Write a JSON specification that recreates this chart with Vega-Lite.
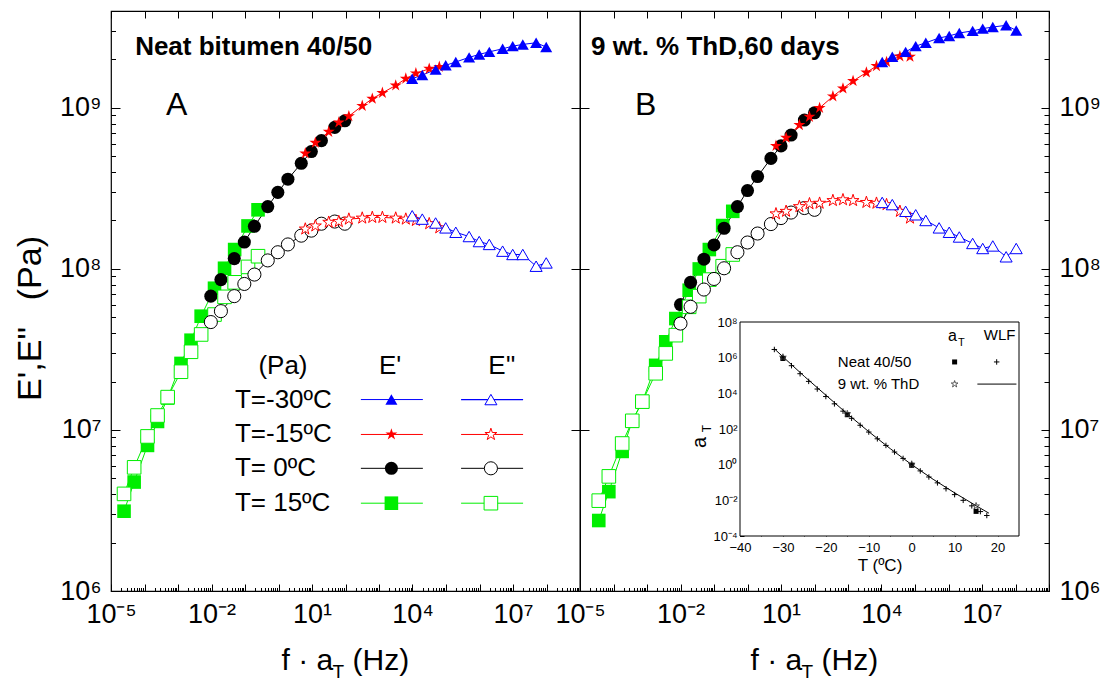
{
"$schema":"https://vega.github.io/schema/vega-lite/v6.json",
"padding":{"left":12,"top":9,"right":5,"bottom":0},
"background":"white",
"bounds":"flush",
"spacing":0,
"config":{"font":"Liberation Sans","view":{"stroke":"#000","strokeWidth":1.2},
"axis":{"labelFont":"Liberation Sans","titleFont":"Liberation Sans","labelColor":"#000","titleColor":"#000","tickColor":"#000","tickWidth":1,"domain":false,"grid":false,"zindex":1,"titleFontWeight":"normal","labelFlush":false,"labelOverlap":false,"labelBound":false}},
"datasets":{
"main":[
{"p":"A","T":"15","m":"s","f":2.45e-5,"E":3.13e6},{"p":"A","T":"15","m":"s","f":4.91e-5,"E":4.75e6},{"p":"A","T":"15","m":"s","f":1.23e-4,"E":8.02e6},{"p":"A","T":"15","m":"s","f":2.45e-4,"E":1.13e7},{"p":"A","T":"15","m":"s","f":4.91e-4,"E":1.58e7},{"p":"A","T":"15","m":"s","f":1.23e-3,"E":2.59e7},{"p":"A","T":"15","m":"s","f":2.45e-3,"E":3.61e7},{"p":"A","T":"15","m":"s","f":4.91e-3,"E":5.09e7},{"p":"A","T":"15","m":"s","f":1.23e-2,"E":7.59e7},{"p":"A","T":"15","m":"s","f":2.45e-2,"E":1.01e8},{"p":"A","T":"15","m":"s","f":4.91e-2,"E":1.32e8},{"p":"A","T":"15","m":"s","f":0.123,"E":1.85e8},{"p":"A","T":"15","m":"s","f":0.245,"E":2.33e8},
{"p":"A","T":"15","m":"l","f":2.45e-5,"E":4.01e6},{"p":"A","T":"15","m":"l","f":4.91e-5,"E":5.86e6},{"p":"A","T":"15","m":"l","f":1.23e-4,"E":9.12e6},{"p":"A","T":"15","m":"l","f":2.45e-4,"E":1.23e7},{"p":"A","T":"15","m":"l","f":4.91e-4,"E":1.6e7},{"p":"A","T":"15","m":"l","f":1.23e-3,"E":2.3e7},{"p":"A","T":"15","m":"l","f":2.45e-3,"E":3.06e7},{"p":"A","T":"15","m":"l","f":4.91e-3,"E":3.92e7},{"p":"A","T":"15","m":"l","f":1.23e-2,"E":5.21e7},{"p":"A","T":"15","m":"l","f":2.45e-2,"E":6.71e7},{"p":"A","T":"15","m":"l","f":4.91e-2,"E":8.26e7},{"p":"A","T":"15","m":"l","f":0.123,"E":1.03e8},{"p":"A","T":"15","m":"l","f":0.245,"E":1.2e8},
{"p":"A","T":"0","m":"s","f":0.00955,"E":6.78e7},{"p":"A","T":"0","m":"s","f":0.0191,"E":8.59e7},{"p":"A","T":"0","m":"s","f":0.0478,"E":1.16e8},{"p":"A","T":"0","m":"s","f":0.0955,"E":1.47e8},{"p":"A","T":"0","m":"s","f":0.191,"E":1.84e8},{"p":"A","T":"0","m":"s","f":0.478,"E":2.44e8},{"p":"A","T":"0","m":"s","f":0.955,"E":2.99e8},{"p":"A","T":"0","m":"s","f":1.91,"E":3.61e8},{"p":"A","T":"0","m":"s","f":4.78,"E":4.53e8},{"p":"A","T":"0","m":"s","f":9.55,"E":5.36e8},{"p":"A","T":"0","m":"s","f":19.1,"E":6.27e8},{"p":"A","T":"0","m":"s","f":47.8,"E":7.57e8},{"p":"A","T":"0","m":"s","f":95.5,"E":8.32e8},
{"p":"A","T":"0","m":"l","f":0.00955,"E":4.68e7},{"p":"A","T":"0","m":"l","f":0.0191,"E":5.47e7},{"p":"A","T":"0","m":"l","f":0.0478,"E":6.78e7},{"p":"A","T":"0","m":"l","f":0.0955,"E":8.07e7},{"p":"A","T":"0","m":"l","f":0.191,"E":9.23e7},{"p":"A","T":"0","m":"l","f":0.478,"E":1.13e8},{"p":"A","T":"0","m":"l","f":0.955,"E":1.27e8},{"p":"A","T":"0","m":"l","f":1.91,"E":1.42e8},{"p":"A","T":"0","m":"l","f":4.78,"E":1.61e8},{"p":"A","T":"0","m":"l","f":9.55,"E":1.73e8},{"p":"A","T":"0","m":"l","f":19.1,"E":1.91e8},{"p":"A","T":"0","m":"l","f":47.8,"E":1.97e8},{"p":"A","T":"0","m":"l","f":95.5,"E":1.91e8},
{"p":"A","T":"-15","m":"s","f":6.31,"E":5.22e8},{"p":"A","T":"-15","m":"s","f":12.6,"E":6.08e8},{"p":"A","T":"-15","m":"s","f":31.6,"E":7.11e8},{"p":"A","T":"-15","m":"s","f":63.1,"E":8.13e8},{"p":"A","T":"-15","m":"s","f":126,"E":8.89e8},{"p":"A","T":"-15","m":"s","f":316,"E":1.03e9},{"p":"A","T":"-15","m":"s","f":631,"E":1.14e9},{"p":"A","T":"-15","m":"s","f":1262,"E":1.24e9},{"p":"A","T":"-15","m":"s","f":3155,"E":1.38e9},{"p":"A","T":"-15","m":"s","f":6310,"E":1.52e9},{"p":"A","T":"-15","m":"s","f":12620,"E":1.64e9},{"p":"A","T":"-15","m":"s","f":31550,"E":1.75e9},{"p":"A","T":"-15","m":"s","f":63100,"E":1.8e9},
{"p":"A","T":"-15","m":"l","f":6.31,"E":1.77e8},{"p":"A","T":"-15","m":"l","f":12.6,"E":1.85e8},{"p":"A","T":"-15","m":"l","f":31.6,"E":1.95e8},{"p":"A","T":"-15","m":"l","f":63.1,"E":1.97e8},{"p":"A","T":"-15","m":"l","f":126,"E":2.04e8},{"p":"A","T":"-15","m":"l","f":316,"E":2.07e8},{"p":"A","T":"-15","m":"l","f":631,"E":2.09e8},{"p":"A","T":"-15","m":"l","f":1262,"E":2.09e8},{"p":"A","T":"-15","m":"l","f":3155,"E":2.07e8},{"p":"A","T":"-15","m":"l","f":6310,"E":2.04e8},{"p":"A","T":"-15","m":"l","f":12620,"E":2.0e8},{"p":"A","T":"-15","m":"l","f":31550,"E":1.91e8},{"p":"A","T":"-15","m":"l","f":63100,"E":1.8e8},
{"p":"A","T":"-30","m":"s","f":9800,"E":1.52e9},{"p":"A","T":"-30","m":"s","f":19600,"E":1.6e9},{"p":"A","T":"-30","m":"s","f":49000,"E":1.73e9},{"p":"A","T":"-30","m":"s","f":98000,"E":1.84e9},{"p":"A","T":"-30","m":"s","f":196000,"E":1.93e9},{"p":"A","T":"-30","m":"s","f":490000,"E":2.06e9},{"p":"A","T":"-30","m":"s","f":980000,"E":2.15e9},{"p":"A","T":"-30","m":"s","f":1.96e6,"E":2.23e9},{"p":"A","T":"-30","m":"s","f":4.9e6,"E":2.33e9},{"p":"A","T":"-30","m":"s","f":9.8e6,"E":2.42e9},{"p":"A","T":"-30","m":"s","f":1.96e7,"E":2.48e9},{"p":"A","T":"-30","m":"s","f":4.9e7,"E":2.54e9},{"p":"A","T":"-30","m":"s","f":9.8e7,"E":2.39e9},
{"p":"A","T":"-30","m":"l","f":9800,"E":2.14e8},{"p":"A","T":"-30","m":"l","f":19600,"E":2.04e8},{"p":"A","T":"-30","m":"l","f":49000,"E":1.93e8},{"p":"A","T":"-30","m":"l","f":98000,"E":1.8e8},{"p":"A","T":"-30","m":"l","f":196000,"E":1.69e8},{"p":"A","T":"-30","m":"l","f":490000,"E":1.59e8},{"p":"A","T":"-30","m":"l","f":980000,"E":1.48e8},{"p":"A","T":"-30","m":"l","f":1.96e6,"E":1.42e8},{"p":"A","T":"-30","m":"l","f":4.9e6,"E":1.29e8},{"p":"A","T":"-30","m":"l","f":9.8e6,"E":1.23e8},{"p":"A","T":"-30","m":"l","f":1.96e7,"E":1.23e8},{"p":"A","T":"-30","m":"l","f":4.9e7,"E":1.04e8},{"p":"A","T":"-30","m":"l","f":9.8e7,"E":1.09e8},
{"p":"B","T":"15","m":"s","f":3.63e-5,"E":2.74e6},{"p":"B","T":"15","m":"s","f":7.26e-5,"E":4.14e6},{"p":"B","T":"15","m":"s","f":1.815e-4,"E":7.36e6},{"p":"B","T":"15","m":"s","f":3.63e-4,"E":1.14e7},{"p":"B","T":"15","m":"s","f":7.26e-4,"E":1.5e7},{"p":"B","T":"15","m":"s","f":1.815e-3,"E":2.52e7},{"p":"B","T":"15","m":"s","f":3.63e-3,"E":3.53e7},{"p":"B","T":"15","m":"s","f":7.26e-3,"E":4.92e7},{"p":"B","T":"15","m":"s","f":1.815e-2,"E":7.38e7},{"p":"B","T":"15","m":"s","f":3.63e-2,"E":1.0e8},{"p":"B","T":"15","m":"s","f":7.26e-2,"E":1.32e8},{"p":"B","T":"15","m":"s","f":0.1815,"E":1.86e8},{"p":"B","T":"15","m":"s","f":0.363,"E":2.28e8},
{"p":"B","T":"15","m":"l","f":3.63e-5,"E":3.64e6},{"p":"B","T":"15","m":"l","f":7.26e-5,"E":5.15e6},{"p":"B","T":"15","m":"l","f":1.815e-4,"E":8.24e6},{"p":"B","T":"15","m":"l","f":3.63e-4,"E":1.14e7},{"p":"B","T":"15","m":"l","f":7.26e-4,"E":1.5e7},{"p":"B","T":"15","m":"l","f":1.815e-3,"E":2.25e7},{"p":"B","T":"15","m":"l","f":3.63e-3,"E":2.99e7},{"p":"B","T":"15","m":"l","f":7.26e-3,"E":3.88e7},{"p":"B","T":"15","m":"l","f":1.815e-2,"E":5.82e7},{"p":"B","T":"15","m":"l","f":3.63e-2,"E":6.78e7},{"p":"B","T":"15","m":"l","f":7.26e-2,"E":8.59e7},{"p":"B","T":"15","m":"l","f":0.1815,"E":1.04e8},{"p":"B","T":"15","m":"l","f":0.363,"E":1.23e8},
{"p":"B","T":"0","m":"s","f":0.01,"E":6.01e7},{"p":"B","T":"0","m":"s","f":0.02,"E":8.26e7},{"p":"B","T":"0","m":"s","f":0.05,"E":1.15e8},{"p":"B","T":"0","m":"s","f":0.1,"E":1.41e8},{"p":"B","T":"0","m":"s","f":0.2,"E":1.79e8},{"p":"B","T":"0","m":"s","f":0.5,"E":2.44e8},{"p":"B","T":"0","m":"s","f":1,"E":3.07e8},{"p":"B","T":"0","m":"s","f":2,"E":3.75e8},{"p":"B","T":"0","m":"s","f":5,"E":4.86e8},{"p":"B","T":"0","m":"s","f":10,"E":5.81e8},{"p":"B","T":"0","m":"s","f":20,"E":6.79e8},{"p":"B","T":"0","m":"s","f":50,"E":8.41e8},{"p":"B","T":"0","m":"s","f":100,"E":9.33e8},
{"p":"B","T":"0","m":"l","f":0.01,"E":4.58e7},{"p":"B","T":"0","m":"l","f":0.02,"E":5.82e7},{"p":"B","T":"0","m":"l","f":0.05,"E":7.45e7},{"p":"B","T":"0","m":"l","f":0.1,"E":8.67e7},{"p":"B","T":"0","m":"l","f":0.2,"E":1.01e8},{"p":"B","T":"0","m":"l","f":0.5,"E":1.27e8},{"p":"B","T":"0","m":"l","f":1,"E":1.46e8},{"p":"B","T":"0","m":"l","f":2,"E":1.66e8},{"p":"B","T":"0","m":"l","f":5,"E":1.9e8},{"p":"B","T":"0","m":"l","f":10,"E":2.07e8},{"p":"B","T":"0","m":"l","f":20,"E":2.24e8},{"p":"B","T":"0","m":"l","f":50,"E":2.39e8},{"p":"B","T":"0","m":"l","f":100,"E":2.33e8},
{"p":"B","T":"-15","m":"s","f":7.08,"E":5.81e8},{"p":"B","T":"-15","m":"s","f":14.2,"E":6.53e8},{"p":"B","T":"-15","m":"s","f":35.4,"E":7.83e8},{"p":"B","T":"-15","m":"s","f":70.8,"E":8.81e8},{"p":"B","T":"-15","m":"s","f":142,"E":1.0e9},{"p":"B","T":"-15","m":"s","f":354,"E":1.18e9},{"p":"B","T":"-15","m":"s","f":708,"E":1.32e9},{"p":"B","T":"-15","m":"s","f":1416,"E":1.47e9},{"p":"B","T":"-15","m":"s","f":3540,"E":1.66e9},{"p":"B","T":"-15","m":"s","f":7080,"E":1.82e9},{"p":"B","T":"-15","m":"s","f":14160,"E":1.93e9},{"p":"B","T":"-15","m":"s","f":35400,"E":2.09e9},{"p":"B","T":"-15","m":"s","f":70800,"E":2.08e9},
{"p":"B","T":"-15","m":"l","f":7.08,"E":2.2e8},{"p":"B","T":"-15","m":"l","f":14.2,"E":2.28e8},{"p":"B","T":"-15","m":"l","f":35.4,"E":2.44e8},{"p":"B","T":"-15","m":"l","f":70.8,"E":2.54e8},{"p":"B","T":"-15","m":"l","f":142,"E":2.56e8},{"p":"B","T":"-15","m":"l","f":354,"E":2.66e8},{"p":"B","T":"-15","m":"l","f":708,"E":2.69e8},{"p":"B","T":"-15","m":"l","f":1416,"E":2.66e8},{"p":"B","T":"-15","m":"l","f":3540,"E":2.59e8},{"p":"B","T":"-15","m":"l","f":7080,"E":2.56e8},{"p":"B","T":"-15","m":"l","f":14160,"E":2.51e8},{"p":"B","T":"-15","m":"l","f":35400,"E":2.28e8},{"p":"B","T":"-15","m":"l","f":70800,"E":2.07e8},
{"p":"B","T":"-30","m":"s","f":10500,"E":1.93e9},{"p":"B","T":"-30","m":"s","f":21000,"E":2.08e9},{"p":"B","T":"-30","m":"s","f":52500,"E":2.23e9},{"p":"B","T":"-30","m":"s","f":105000,"E":2.42e9},{"p":"B","T":"-30","m":"s","f":210000,"E":2.54e9},{"p":"B","T":"-30","m":"s","f":525000,"E":2.72e9},{"p":"B","T":"-30","m":"s","f":1.05e6,"E":2.8e9},{"p":"B","T":"-30","m":"s","f":2.1e6,"E":2.92e9},{"p":"B","T":"-30","m":"s","f":5.25e6,"E":3.01e9},{"p":"B","T":"-30","m":"s","f":1.05e7,"E":3.11e9},{"p":"B","T":"-30","m":"s","f":2.1e7,"E":3.18e9},{"p":"B","T":"-30","m":"s","f":5.25e7,"E":3.26e9},{"p":"B","T":"-30","m":"s","f":1.05e8,"E":3.03e9},
{"p":"B","T":"-30","m":"l","f":10500,"E":2.59e8},{"p":"B","T":"-30","m":"l","f":21000,"E":2.51e8},{"p":"B","T":"-30","m":"l","f":52500,"E":2.28e8},{"p":"B","T":"-30","m":"l","f":105000,"E":2.17e8},{"p":"B","T":"-30","m":"l","f":210000,"E":2.0e8},{"p":"B","T":"-30","m":"l","f":525000,"E":1.8e8},{"p":"B","T":"-30","m":"l","f":1.05e6,"E":1.69e8},{"p":"B","T":"-30","m":"l","f":2.1e6,"E":1.58e8},{"p":"B","T":"-30","m":"l","f":5.25e6,"E":1.44e8},{"p":"B","T":"-30","m":"l","f":1.05e7,"E":1.34e8},{"p":"B","T":"-30","m":"l","f":2.1e7,"E":1.39e8},{"p":"B","T":"-30","m":"l","f":5.25e7,"E":1.19e8},{"p":"B","T":"-30","m":"l","f":1.05e8,"E":1.34e8}
],
"ins":[
{"s":"nw","T":-32,"a":2.88e6},{"s":"nw","T":-30,"a":1.0e6},{"s":"nw","T":-28,"a":3.55e5},{"s":"nw","T":-26,"a":1.26e5},{"s":"nw","T":-24,"a":4.68e4},{"s":"nw","T":-22,"a":1.74e4},{"s":"nw","T":-20,"a":6610},{"s":"nw","T":-18,"a":2570},{"s":"nw","T":-16,"a":1000},{"s":"nw","T":-14,"a":398},{"s":"nw","T":-12,"a":162},{"s":"nw","T":-10,"a":67.6},{"s":"nw","T":-8,"a":28.2},{"s":"nw","T":-6,"a":12.0},{"s":"nw","T":-4,"a":5.13},{"s":"nw","T":-2,"a":2.24},{"s":"nw","T":0,"a":1.0},{"s":"nw","T":2,"a":0.447},{"s":"nw","T":4,"a":0.204},{"s":"nw","T":6,"a":0.0955},{"s":"nw","T":8,"a":0.0447},{"s":"nw","T":10,"a":0.0209},{"s":"nw","T":12,"a":0.01},{"s":"nw","T":14,"a":0.0049},{"s":"nw","T":16,"a":0.00234},{"s":"nw","T":17.5,"a":0.00141},
{"s":"tw","T":-32,"a":3.16e6},{"s":"tw","T":-30,"a":1.12e6},{"s":"tw","T":-25,"a":8.9e4},{"s":"tw","T":-20,"a":7900},{"s":"tw","T":-15,"a":708},{"s":"tw","T":-10,"a":70.8},{"s":"tw","T":-5,"a":7.94},{"s":"tw","T":0,"a":1.0},{"s":"tw","T":5,"a":0.151},{"s":"tw","T":10,"a":0.0263},{"s":"tw","T":15,"a":0.005},{"s":"tw","T":18,"a":0.0019},
{"s":"na","T":-30,"a":9.0e5},{"s":"na","T":-15,"a":630},{"s":"na","T":0,"a":0.92},{"s":"na","T":15,"a":0.0024},
{"s":"ta","T":-30,"a":1.05e6},{"s":"ta","T":-15,"a":708},{"s":"ta","T":0,"a":1.05},{"s":"ta","T":15,"a":0.0048}
]},
"hconcat":[
{
"width":469,"height":580,
"data":{"name":"main"},
"transform":[{"filter":"datum.p == 'A'"}],
"resolve":{"axis":{"x":"independent","y":"independent"}},
"layer":[
{"mark":{"type":"line","strokeWidth":1},
"encoding":{
"x":{"field":"f","type":"quantitative","scale":{"type":"log","domain":[1e-5,1e9],"nice":false},"axis":{"orient":"bottom","values":[1e-5,0.01,10,10000,1e7],"ticks":false,"labelExpr":"'10' + (datum.value < 1 ? '⁻' : '') + substring('⁰¹²³⁴⁵⁶⁷⁸⁹', abs(round(log(datum.value)/LN10)), abs(round(log(datum.value)/LN10)) + 1)","labelFontSize":27,"labelPadding":10,"title":"f · a","titleFontSize":30,"titleX":170,"titleY":78,"titleAlign":"left","titleBaseline":"alphabetic"}},
"y":{"field":"E","type":"quantitative","scale":{"type":"log","domain":[1e6,4e9],"nice":false},"axis":{"orient":"left","values":[1e6,1e7,1e8,1e9],"ticks":false,"labelExpr":"'10' + (datum.value < 1 ? '⁻' : '') + substring('⁰¹²³⁴⁵⁶⁷⁸⁹', abs(round(log(datum.value)/LN10)), abs(round(log(datum.value)/LN10)) + 1)","labelFontSize":27,"labelPadding":10,"title":"E',E'' \u2002(Pa)","titleFontSize":34,"titleX":-81,"titleY":307,"titleAngle":-90,"titleAlign":"center","titleBaseline":"middle"}},
"color":{"field":"T","type":"nominal","scale":{"domain":["-30","-15","0","15"],"range":["#0000ff","#ff0000","#000000","#00ee00"]},"legend":null},
"detail":{"field":"m"}}},
{"transform":[{"filter":"datum.m == 's'"}],
"mark":{"type":"point","filled":true,"opacity":1},
"encoding":{
"x":{"field":"f","type":"quantitative","axis":{"orient":"bottom","values":[1e-5,1e-4,1e-3,0.01,0.1,1,10,100,1000,1e4,1e5,1e6,1e7,1e8,1e9],"labels":false,"tickSize":-7,"title":"(Hz)","titleFontSize":30,"titleX":241,"titleY":78,"titleAlign":"left","titleBaseline":"alphabetic"}},
"y":{"field":"E","type":"quantitative","axis":{"orient":"left","values":[1e6,1e7,1e8,1e9],"labels":false,"tickSize":-9,"title":null}},
"color":{"field":"T","type":"nominal","legend":null},
"shape":{"field":"T","type":"nominal","scale":{"domain":["-30","-15","0","15"],"range":["triangle-up","M0,-1L0.225,-0.309L0.951,-0.309L0.363,0.118L0.588,0.809L0,0.382L-0.588,0.809L-0.363,0.118L-0.951,-0.309L-0.225,-0.309Z","circle","square"]},"legend":null},
"size":{"field":"T","type":"nominal","scale":{"domain":["-30","-15","0","15"],"range":[145,185,90,64]},"legend":null}}},
{"transform":[{"filter":"datum.m == 'l'"}],
"mark":{"type":"point","filled":false,"fill":"white","strokeWidth":1,"opacity":1},
"encoding":{
"x":{"field":"f","type":"quantitative","axis":{"orient":"bottom","tickCount":200,"labels":false,"tickSize":-3.5,"title":"T","titleFontSize":19,"titleX":221,"titleY":86,"titleAlign":"left","titleBaseline":"alphabetic"}},
"y":{"field":"E","type":"quantitative","axis":{"orient":"left","tickCount":40,"labels":false,"tickSize":-4.5,"title":null}},
"color":{"field":"T","type":"nominal","legend":null},
"shape":{"field":"T","type":"nominal","legend":null},
"size":{"field":"T","type":"nominal","legend":null}}},
{"data":{"values":[{}]},
"mark":{"type":"text","text":"Neat bitumen 40/50","fontWeight":"bold","fontSize":26,"align":"left","baseline":"middle"},
"encoding":{"x":{"datum":5.25e-5,"axis":{"orient":"top","values":[1e-5,1e-4,1e-3,0.01,0.1,1,10,100,1000,1e4,1e5,1e6,1e7,1e8,1e9],"labels":false,"tickSize":-7,"title":null}},
"y":{"datum":2.4e9,"axis":{"orient":"right","values":[1e6,1e7,1e8,1e9],"labels":false,"tickSize":-9,"title":null}}}},
{"data":{"values":[{}]},
"mark":{"type":"text","text":"A","fontSize":32,"align":"left","baseline":"middle"},
"encoding":{"x":{"datum":4.37e-4,"axis":null},"y":{"datum":1.05e9,"axis":null}}},
{"data":{"values":[{}]},"mark":{"type":"text","text":"(Pa)","fontSize":26,"align":"center","baseline":"middle"},"encoding":{"x":{"datum":1.36,"axis":null},"y":{"datum":2.51e7,"axis":null}}},
{"data":{"values":[{}]},"mark":{"type":"text","text":"E'","fontSize":26,"align":"center","baseline":"middle"},"encoding":{"x":{"datum":2138,"axis":null},"y":{"datum":2.51e7,"axis":null}}},
{"data":{"values":[{}]},"mark":{"type":"text","text":"E''","fontSize":26,"align":"center","baseline":"middle"},"encoding":{"x":{"datum":4.68e6,"axis":null},"y":{"datum":2.51e7,"axis":null}}},
{"data":{"values":[{"T":"-30","lab":"T=-30ºC"},{"T":"-15","lab":"T=-15ºC"},{"T":"0","lab":"T= 0ºC"},{"T":"15","lab":"T= 15ºC"}]},
"transform":[{"filter":"datum.T == '-30'"}],
"encoding":{"y":{"datum":1.545e7,"axis":null}},
"layer":[
{"mark":{"type":"rule","strokeWidth":1},"encoding":{"x":{"datum":288,"axis":null},"x2":{"datum":20400},"color":{"field":"T","type":"nominal","legend":null}}},
{"mark":{"type":"point","filled":true,"opacity":1},"encoding":{"x":{"datum":2344,"axis":null},"color":{"field":"T","type":"nominal","legend":null},"shape":{"field":"T","type":"nominal","legend":null},"size":{"field":"T","type":"nominal","legend":null}}},
{"mark":{"type":"rule","strokeWidth":1.3},"encoding":{"x":{"datum":282000,"axis":null},"x2":{"datum":2.0e7},"color":{"field":"T","type":"nominal","legend":null}}},
{"mark":{"type":"point","filled":false,"fill":"white","strokeWidth":1,"opacity":1},"encoding":{"x":{"datum":2.19e6,"axis":null},"color":{"field":"T","type":"nominal","legend":null},"shape":{"field":"T","type":"nominal","legend":null},"size":{"field":"T","type":"nominal","legend":null}}},
{"mark":{"type":"text","fontSize":26,"align":"left","baseline":"middle"},"encoding":{"x":{"datum":0.05,"axis":null},"text":{"field":"lab"}}}
]},
{"data":{"values":[{"T":"-30","lab":"T=-30ºC"},{"T":"-15","lab":"T=-15ºC"},{"T":"0","lab":"T= 0ºC"},{"T":"15","lab":"T= 15ºC"}]},
"transform":[{"filter":"datum.T == '-15'"}],
"encoding":{"y":{"datum":9.38e6,"axis":null}},
"layer":[
{"mark":{"type":"rule","strokeWidth":1},"encoding":{"x":{"datum":288,"axis":null},"x2":{"datum":20400},"color":{"field":"T","type":"nominal","legend":null}}},
{"mark":{"type":"point","filled":true,"opacity":1},"encoding":{"x":{"datum":2344,"axis":null},"color":{"field":"T","type":"nominal","legend":null},"shape":{"field":"T","type":"nominal","legend":null},"size":{"field":"T","type":"nominal","legend":null}}},
{"mark":{"type":"rule","strokeWidth":1},"encoding":{"x":{"datum":282000,"axis":null},"x2":{"datum":2.0e7},"color":{"field":"T","type":"nominal","legend":null}}},
{"mark":{"type":"point","filled":false,"fill":"white","strokeWidth":1,"opacity":1},"encoding":{"x":{"datum":2.19e6,"axis":null},"color":{"field":"T","type":"nominal","legend":null},"shape":{"field":"T","type":"nominal","legend":null},"size":{"field":"T","type":"nominal","legend":null}}},
{"mark":{"type":"text","fontSize":26,"align":"left","baseline":"middle"},"encoding":{"x":{"datum":0.05,"axis":null},"text":{"field":"lab"}}}
]},
{"data":{"values":[{"T":"-30","lab":"T=-30ºC"},{"T":"-15","lab":"T=-15ºC"},{"T":"0","lab":"T= 0ºC"},{"T":"15","lab":"T= 15ºC"}]},
"transform":[{"filter":"datum.T == '0'"}],
"encoding":{"y":{"datum":5.78e6,"axis":null}},
"layer":[
{"mark":{"type":"rule","strokeWidth":1},"encoding":{"x":{"datum":288,"axis":null},"x2":{"datum":20400},"color":{"field":"T","type":"nominal","legend":null}}},
{"mark":{"type":"point","filled":true,"opacity":1},"encoding":{"x":{"datum":2344,"axis":null},"color":{"field":"T","type":"nominal","legend":null},"shape":{"field":"T","type":"nominal","legend":null},"size":{"field":"T","type":"nominal","legend":null}}},
{"mark":{"type":"rule","strokeWidth":1},"encoding":{"x":{"datum":282000,"axis":null},"x2":{"datum":2.0e7},"color":{"field":"T","type":"nominal","legend":null}}},
{"mark":{"type":"point","filled":false,"fill":"white","strokeWidth":1,"opacity":1},"encoding":{"x":{"datum":2.19e6,"axis":null},"color":{"field":"T","type":"nominal","legend":null},"shape":{"field":"T","type":"nominal","legend":null},"size":{"field":"T","type":"nominal","legend":null}}},
{"mark":{"type":"text","fontSize":26,"align":"left","baseline":"middle"},"encoding":{"x":{"datum":0.05,"axis":null},"text":{"field":"lab"}}}
]},
{"data":{"values":[{"T":"-30","lab":"T=-30ºC"},{"T":"-15","lab":"T=-15ºC"},{"T":"0","lab":"T= 0ºC"},{"T":"15","lab":"T= 15ºC"}]},
"transform":[{"filter":"datum.T == '15'"}],
"encoding":{"y":{"datum":3.51e6,"axis":null}},
"layer":[
{"mark":{"type":"rule","strokeWidth":1},"encoding":{"x":{"datum":288,"axis":null},"x2":{"datum":20400},"color":{"field":"T","type":"nominal","legend":null}}},
{"mark":{"type":"point","filled":true,"opacity":1},"encoding":{"x":{"datum":2344,"axis":null},"color":{"field":"T","type":"nominal","legend":null},"shape":{"field":"T","type":"nominal","legend":null},"size":{"field":"T","type":"nominal","legend":null}}},
{"mark":{"type":"rule","strokeWidth":1},"encoding":{"x":{"datum":282000,"axis":null},"x2":{"datum":2.0e7},"color":{"field":"T","type":"nominal","legend":null}}},
{"mark":{"type":"point","filled":false,"fill":"white","strokeWidth":1,"opacity":1},"encoding":{"x":{"datum":2.19e6,"axis":null},"color":{"field":"T","type":"nominal","legend":null},"shape":{"field":"T","type":"nominal","legend":null},"size":{"field":"T","type":"nominal","legend":null}}},
{"mark":{"type":"text","fontSize":26,"align":"left","baseline":"middle"},"encoding":{"x":{"datum":0.05,"axis":null},"text":{"field":"lab"}}}
]}
]},
{
"width":469,"height":580,
"resolve":{"scale":{"x":"independent","y":"independent"},"axis":{"x":"independent","y":"independent"}},
"layer":[
{"data":{"name":"main"},
"transform":[{"filter":"datum.p == 'B'"}],
"resolve":{"axis":{"x":"independent","y":"independent"}},
"layer":[
{"mark":{"type":"line","strokeWidth":1},
"encoding":{
"x":{"field":"f","type":"quantitative","scale":{"type":"log","domain":[1e-5,1e9],"nice":false},"axis":{"orient":"bottom","values":[1e-5,0.01,10,10000,1e7],"ticks":false,"labelExpr":"'10' + (datum.value < 1 ? '⁻' : '') + substring('⁰¹²³⁴⁵⁶⁷⁸⁹', abs(round(log(datum.value)/LN10)), abs(round(log(datum.value)/LN10)) + 1)","labelFontSize":27,"labelPadding":10,"title":"f · a","titleFontSize":30,"titleX":170,"titleY":78,"titleAlign":"left","titleBaseline":"alphabetic"}},
"y":{"field":"E","type":"quantitative","scale":{"type":"log","domain":[1e6,4e9],"nice":false},"axis":{"orient":"right","values":[1e6,1e7,1e8,1e9],"ticks":false,"labelExpr":"'10' + (datum.value < 1 ? '⁻' : '') + substring('⁰¹²³⁴⁵⁶⁷⁸⁹', abs(round(log(datum.value)/LN10)), abs(round(log(datum.value)/LN10)) + 1)","labelFontSize":27,"labelPadding":10,"title":null}},
"color":{"field":"T","type":"nominal","legend":null},
"detail":{"field":"m"}}},
{"transform":[{"filter":"datum.m == 's'"}],
"mark":{"type":"point","filled":true,"opacity":1},
"encoding":{
"x":{"field":"f","type":"quantitative","axis":{"orient":"bottom","values":[1e-5,1e-4,1e-3,0.01,0.1,1,10,100,1000,1e4,1e5,1e6,1e7,1e8,1e9],"labels":false,"tickSize":-7,"title":"(Hz)","titleFontSize":30,"titleX":241,"titleY":78,"titleAlign":"left","titleBaseline":"alphabetic"}},
"y":{"field":"E","type":"quantitative","axis":{"orient":"right","values":[1e6,1e7,1e8,1e9],"labels":false,"tickSize":-8,"title":null}},
"color":{"field":"T","type":"nominal","legend":null},
"shape":{"field":"T","type":"nominal","legend":null},
"size":{"field":"T","type":"nominal","legend":null}}},
{"transform":[{"filter":"datum.m == 'l'"}],
"mark":{"type":"point","filled":false,"fill":"white","strokeWidth":1,"opacity":1},
"encoding":{
"x":{"field":"f","type":"quantitative","axis":{"orient":"bottom","tickCount":200,"labels":false,"tickSize":-3.5,"title":"T","titleFontSize":19,"titleX":221,"titleY":86,"titleAlign":"left","titleBaseline":"alphabetic"}},
"y":{"field":"E","type":"quantitative","axis":{"orient":"right","tickCount":40,"labels":false,"tickSize":-5,"title":null}},
"color":{"field":"T","type":"nominal","legend":null},
"shape":{"field":"T","type":"nominal","legend":null},
"size":{"field":"T","type":"nominal","legend":null}}},
{"data":{"values":[{}]},
"mark":{"type":"text","text":"9 wt. % ThD,60 days","fontWeight":"bold","fontSize":26,"align":"left","baseline":"middle"},
"encoding":{"x":{"datum":2.14e-5,"axis":{"orient":"top","values":[1e-5,1e-4,1e-3,0.01,0.1,1,10,100,1000,1e4,1e5,1e6,1e7,1e8,1e9],"labels":false,"tickSize":-7,"title":null}},
"y":{"datum":2.4e9,"axis":{"orient":"left","values":[1e6,1e7,1e8,1e9],"labels":false,"tickSize":-9,"title":null}}}},
{"data":{"values":[{}]},
"mark":{"type":"text","text":"B","fontSize":32,"align":"left","baseline":"middle"},
"encoding":{"x":{"datum":4.37e-4,"axis":null},"y":{"datum":1.05e9,"axis":null}}}
]},
{"resolve":{"axis":{"x":"independent","y":"independent"}},
"layer":[
{"data":{"values":[{}]},
"mark":{"type":"rect","fill":"white","stroke":"black","strokeWidth":1},
"encoding":{
"x":{"datum":-40,"type":"quantitative","scale":{"domain":[-40,25],"range":[160,439],"nice":false,"zero":false},"axis":{"orient":"bottom","offset":-55,"values":[-40,-30,-20,-10,0,10,20],"ticks":false,"labelFontSize":13,"labelPadding":5,"title":"T (ºC)","titleFontSize":17,"titlePadding":3}},
"x2":{"datum":25},
"y":{"datum":1e-4,"type":"quantitative","scale":{"type":"log","domain":[1e-4,1e8],"range":[525,311],"nice":false},"axis":{"orient":"left","offset":-160,"values":[1e-4,1e-2,1,100,1e4,1e6,1e8],"ticks":false,"labelExpr":"'10' + (datum.value < 1 ? '⁻' : '') + substring('⁰¹²³⁴⁵⁶⁷⁸⁹', abs(round(log(datum.value)/LN10)), abs(round(log(datum.value)/LN10)) + 1)","labelFontSize":13,"labelPadding":3,"title":"a","titleFontSize":20,"titleX":-41,"titleY":431,"titleAngle":-90,"titleAlign":"center","titleBaseline":"middle"}},
"y2":{"datum":1e8}}},
{"data":{"name":"ins"},"transform":[{"filter":"datum.s == 'nw'"}],
"mark":{"type":"point","shape":"M-1,0L1,0M0,-1L0,1","filled":false,"color":"black","strokeWidth":1,"size":30,"opacity":1},
"encoding":{"x":{"field":"T","type":"quantitative","axis":{"orient":"bottom","offset":-55,"values":[-40,-30,-20,-10,0,10,20],"labels":false,"tickSize":-4,"title":null}},
"y":{"field":"a","type":"quantitative","axis":{"orient":"left","offset":-160,"values":[1e-4,1e-3,1e-2,0.1,1,10,100,1000,1e4,1e5,1e6,1e7,1e8],"labels":false,"tickSize":-4,"title":null}}}},
{"data":{"name":"ins"},"transform":[{"filter":"datum.s == 'tw'"}],
"mark":{"type":"line","color":"black","strokeWidth":1},
"encoding":{"x":{"field":"T","type":"quantitative","axis":{"orient":"bottom","offset":-55,"values":[-35,-25,-15,-5,5,15],"labels":false,"tickSize":-2.5,"title":null}},
"y":{"field":"a","type":"quantitative","axis":{"orient":"left","offset":-160,"tickCount":200,"labels":false,"tickSize":-2,"title":"T","titleFontSize":12,"titleX":-34,"titleY":417,"titleAngle":-90,"titleAlign":"center","titleBaseline":"middle"}}}},
{"data":{"name":"ins"},"transform":[{"filter":"datum.s == 'na'"}],
"mark":{"type":"point","shape":"square","filled":true,"color":"black","size":25,"opacity":1},
"encoding":{"x":{"field":"T","type":"quantitative","axis":null},"y":{"field":"a","type":"quantitative","axis":null}}},
{"data":{"name":"ins"},"transform":[{"filter":"datum.s == 'ta'"}],
"mark":{"type":"point","shape":"M0,-1L0.225,-0.309L0.951,-0.309L0.363,0.118L0.588,0.809L0,0.382L-0.588,0.809L-0.363,0.118L-0.951,-0.309L-0.225,-0.309Z","filled":false,"color":"#333","strokeWidth":0.8,"size":50,"opacity":1},
"encoding":{"x":{"field":"T","type":"quantitative","axis":null},"y":{"field":"a","type":"quantitative","axis":null}}},
{"data":{"values":[{}]},"mark":{"type":"text","text":"a","fontSize":16,"align":"center","baseline":"middle"},"encoding":{"x":{"datum":9.5,"axis":null},"y":{"datum":1.6e7,"axis":null}}},
{"data":{"values":[{}]},"mark":{"type":"text","text":"T","fontSize":11,"align":"center","baseline":"middle"},"encoding":{"x":{"datum":11.6,"axis":null},"y":{"datum":7.0e6,"axis":null}}},
{"data":{"values":[{}]},"mark":{"type":"text","text":"WLF","fontSize":15,"align":"center","baseline":"middle"},"encoding":{"x":{"datum":20.5,"axis":null},"y":{"datum":1.86e7,"axis":null}}},
{"data":{"values":[{}]},"mark":{"type":"text","text":"Neat 40/50","fontSize":15,"align":"left","baseline":"middle"},"encoding":{"x":{"datum":-17.2,"axis":null},"y":{"datum":5.75e5,"axis":null}}},
{"data":{"values":[{}]},"mark":{"type":"text","text":"9 wt. % ThD","fontSize":15,"align":"left","baseline":"middle"},"encoding":{"x":{"datum":-17.2,"axis":null},"y":{"datum":3.3e4,"axis":null}}},
{"data":{"values":[{}]},"mark":{"type":"point","shape":"square","filled":true,"color":"black","size":25,"opacity":1},"encoding":{"x":{"datum":10,"axis":null},"y":{"datum":5.75e5,"axis":null}}},
{"data":{"values":[{}]},"mark":{"type":"point","shape":"M-1,0L1,0M0,-1L0,1","filled":false,"color":"black","strokeWidth":1,"size":30,"opacity":1},"encoding":{"x":{"datum":19.8,"axis":null},"y":{"datum":5.75e5,"axis":null}}},
{"data":{"values":[{}]},"mark":{"type":"point","shape":"M0,-1L0.225,-0.309L0.951,-0.309L0.363,0.118L0.588,0.809L0,0.382L-0.588,0.809L-0.363,0.118L-0.951,-0.309L-0.225,-0.309Z","filled":false,"color":"#333","strokeWidth":0.8,"size":50,"opacity":1},"encoding":{"x":{"datum":10,"axis":null},"y":{"datum":3.3e4,"axis":null}}},
{"data":{"values":[{}]},"mark":{"type":"rule","color":"black","strokeWidth":1},"encoding":{"x":{"datum":15.3,"axis":null},"x2":{"datum":24.4},"y":{"datum":3.3e4,"axis":null}}}
]}
]}
]}
